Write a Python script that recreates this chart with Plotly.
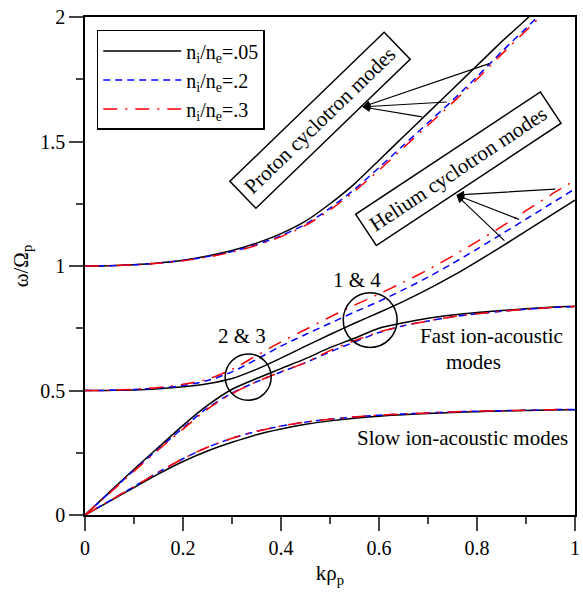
import plotly.graph_objects as go

# ---------------- data ----------------
k = [0, 0.05, 0.1, 0.15, 0.2, 0.25, 0.3, 0.35, 0.4, 0.45, 0.5,
     0.55, 0.6, 0.65, 0.7, 0.75, 0.8, 0.85, 0.9, 0.95, 1.0]

# n_i/n_e = .05 (black)
proton_05 = [1.0, 1.001, 1.005, 1.012, 1.023, 1.04, 1.062, 1.092, 1.13, 1.18, 1.25,
             1.33, 1.425, 1.52, 1.615, 1.71, 1.805, 1.9, 1.99, 2.08, 2.17]
helium_05 = [0.5, 0.5005, 0.502, 0.507, 0.515, 0.527, 0.548, 0.585, 0.63, 0.678, 0.725,
             0.77, 0.813, 0.858, 0.907, 0.96, 1.018, 1.078, 1.14, 1.202, 1.265]
fast_05 = [0, 0.092, 0.184, 0.272, 0.36, 0.44, 0.505, 0.548, 0.588, 0.628, 0.672,
           0.71, 0.75, 0.772, 0.79, 0.803, 0.813, 0.821, 0.828, 0.834, 0.838]
slow_05 = [0, 0.055, 0.11, 0.165, 0.215, 0.257, 0.292, 0.322, 0.345, 0.364, 0.378,
           0.389, 0.397, 0.403, 0.408, 0.412, 0.415, 0.418, 0.42, 0.422, 0.423]

# n_i/n_e = .2 (blue)
proton_2 = [1.0, 1.001, 1.005, 1.012, 1.022, 1.038, 1.058, 1.086, 1.122, 1.168, 1.232,
            1.308, 1.395, 1.485, 1.575, 1.665, 1.76, 1.86, 1.955, 2.05, 2.14]
helium_2 = [0.5, 0.5008, 0.504, 0.51, 0.52, 0.54, 0.575, 0.625, 0.678, 0.725, 0.77,
            0.815, 0.858, 0.905, 0.955, 1.01, 1.068, 1.128, 1.188, 1.249, 1.31]
fast_2 = [0, 0.09, 0.18, 0.266, 0.35, 0.43, 0.49, 0.535, 0.574, 0.612, 0.655,
          0.695, 0.733, 0.76, 0.779, 0.796, 0.808, 0.818, 0.826, 0.833, 0.837]
slow_2 = [0, 0.057, 0.114, 0.172, 0.226, 0.272, 0.308, 0.336, 0.357, 0.373, 0.385,
          0.394, 0.401, 0.406, 0.41, 0.414, 0.417, 0.419, 0.421, 0.423, 0.424]

# n_i/n_e = .3 (red)
proton_3 = [1.0, 1.001, 1.005, 1.011, 1.021, 1.036, 1.056, 1.083, 1.118, 1.163, 1.225,
            1.3, 1.385, 1.475, 1.565, 1.655, 1.75, 1.85, 1.945, 2.04, 2.13]
helium_3 = [0.5, 0.501, 0.505, 0.512, 0.525, 0.545, 0.585, 0.64, 0.695, 0.745, 0.795,
            0.843, 0.888, 0.935, 0.985, 1.04, 1.098, 1.158, 1.222, 1.285, 1.345]
fast_3 = [0, 0.088, 0.176, 0.262, 0.345, 0.425, 0.487, 0.535, 0.575, 0.612, 0.66,
          0.7, 0.735, 0.76, 0.779, 0.796, 0.808, 0.818, 0.826, 0.833, 0.837]
slow_3 = [0, 0.057, 0.114, 0.172, 0.226, 0.272, 0.308, 0.336, 0.357, 0.373, 0.385,
          0.394, 0.401, 0.406, 0.41, 0.414, 0.417, 0.419, 0.421, 0.423, 0.424]

series = [
    ("n<sub>i</sub>/n<sub>e</sub>=.05", "black", "solid", [proton_05, helium_05, fast_05, slow_05]),
    ("n<sub>i</sub>/n<sub>e</sub>=.2", "#0000ff", "7px,5px", [proton_2, helium_2, fast_2, slow_2]),
    ("n<sub>i</sub>/n<sub>e</sub>=.3", "#ff0000", "14px,8px,2px,8px", [proton_3, helium_3, fast_3, slow_3]),
]

FONT = "Liberation Serif"

fig = go.Figure()
for name, color, dash, branches in series:
    for i, yv in enumerate(branches):
        fig.add_trace(go.Scatter(
            x=k, y=yv, mode="lines", name=name, legendgroup=name,
            showlegend=(i == 0),
            line=dict(color=color, width=1.5, dash=dash, shape="spline", smoothing=0.8),
        ))

ann = []
# text boxes
ann.append(dict(x=0.479, y=1.585, xref="x", yref="y", text="Proton cyclotron modes",
                textangle=-44, showarrow=False, font=dict(family=FONT, size=21, color="black"),
                bordercolor="black", borderwidth=1.5, borderpad=6, bgcolor="white"))
ann.append(dict(x=0.763, y=1.39, xref="x", yref="y", text="Helium cyclotron modes",
                textangle=-33.5, showarrow=False, font=dict(family=FONT, size=21, color="black"),
                bordercolor="black", borderwidth=1.5, borderpad=6, bgcolor="white"))
# arrows (proton)
for ex, ey in [(0.828, 1.815), (0.741, 1.659), (0.691, 1.598)]:
    ann.append(dict(x=0.566, y=1.639, xref="x", yref="y", ax=ex, ay=ey, axref="x", ayref="y",
                    text="", showarrow=True, arrowhead=2, arrowsize=1.3, arrowwidth=1.2,
                    arrowcolor="black"))
# arrows (helium)
for ex, ey in [(0.963, 1.309), (0.889, 1.185), (0.859, 1.096)]:
    ann.append(dict(x=0.758, y=1.285, xref="x", yref="y", ax=ex, ay=ey, axref="x", ayref="y",
                    text="", showarrow=True, arrowhead=2, arrowsize=1.3, arrowwidth=1.2,
                    arrowcolor="black"))
# labels
for tx, ty, txt in [(0.32, 0.72, "2 &amp; 3"), (0.556, 0.944, "1 &amp; 4"),
                    (0.829, 0.72, "Fast ion-acoustic"), (0.792, 0.615, "modes"),
                    (0.77, 0.31, "Slow ion-acoustic modes")]:
    ann.append(dict(x=tx, y=ty, xref="x", yref="y", text=txt, showarrow=False,
                    font=dict(family=FONT, size=21, color="black")))

fig.update_layout(
    width=583, height=593,
    margin=dict(l=85, r=3, t=17, b=78),
    paper_bgcolor="white", plot_bgcolor="white",
    font=dict(family=FONT, size=19, color="black"),
    showlegend=True,
    legend=dict(x=0.024, y=0.974, xanchor="left", yanchor="top",
                bordercolor="black", borderwidth=1.5, bgcolor="white",
                font=dict(family=FONT, size=20), itemwidth=78,
                tracegroupgap=0),
    annotations=ann,
    shapes=[
        dict(type="circle", xref="x", yref="y", x0=0.333 - 0.047, x1=0.333 + 0.047,
             y0=0.554 - 0.093, y1=0.554 + 0.093, line=dict(color="black", width=1.5)),
        dict(type="circle", xref="x", yref="y", x0=0.582 - 0.055, x1=0.582 + 0.055,
             y0=0.783 - 0.11, y1=0.783 + 0.11, line=dict(color="black", width=1.5)),
    ],
)
fig.update_xaxes(range=[0, 1], dtick=0.2, tick0=0, ticks="outside", ticklen=14, tickwidth=1.5,
                 showline=True, linecolor="black", linewidth=1.5, mirror=True,
                 showgrid=False, zeroline=False,
                 minor=dict(dtick=0.1, ticks="outside", ticklen=7, tickwidth=1.5, showgrid=False),
                 title=dict(text="kρ<sub>p</sub>", font=dict(family=FONT, size=21), standoff=8),
                 tickfont=dict(family=FONT, size=20))
fig.update_yaxes(range=[0, 2], dtick=0.5, tick0=0, ticks="outside", ticklen=14, tickwidth=1.5,
                 showline=True, linecolor="black", linewidth=1.5, mirror=True,
                 showgrid=False, zeroline=False,
                 minor=dict(dtick=0.25, ticks="outside", ticklen=7, tickwidth=1.5, showgrid=False),
                 title=dict(text="ω/Ω<sub>p</sub>", font=dict(family=FONT, size=21), standoff=6),
                 tickfont=dict(family=FONT, size=20))

fig.write_html("out.html")
